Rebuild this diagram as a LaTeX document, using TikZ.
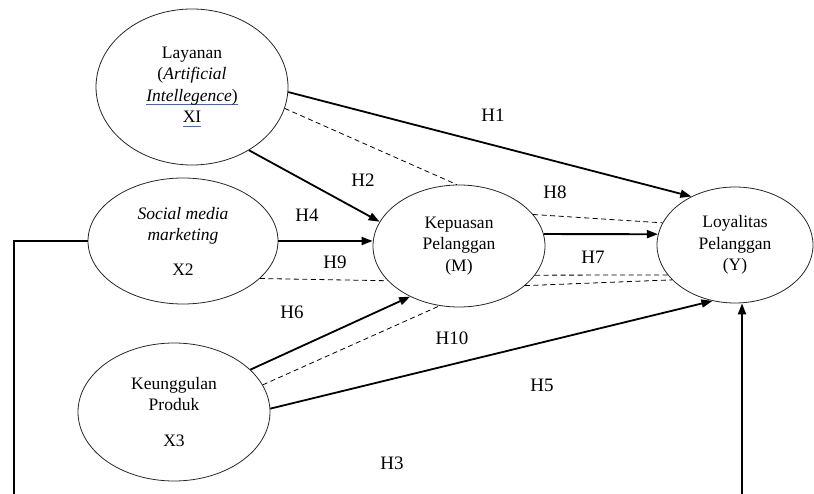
\documentclass[tikz,border=0pt]{standalone}
\usepackage{fontspec}
\setmainfont{Liberation Serif}
\usepackage{tikz}
\usetikzlibrary{arrows.meta, shapes.geometric, calc}
\definecolor{wordBlue}{RGB}{60,100,220}
\newcommand{\spellmark}[1]{\setbox0\hbox{#1}\rlap{\color{wordBlue}\rule[-4pt]{\wd0}{1.1pt}}\box0}
\tikzset{
	var/.style={draw, black!85, text=black, ellipse, line width=0.8pt, inner sep=0pt, align=center, font=\fontsize{17.5}{21.5}\selectfont},
	hyp/.style={line width=1.8pt, -{Triangle[length=11pt,width=8pt]}},
	med/.style={line width=0.8pt, dash pattern=on 5pt off 3.5pt},
	hlab/.style={font=\fontsize{19}{22}\selectfont}
}

\begin{document}
\begin{tikzpicture}[x=1pt, y=-1pt]
				\useasboundingbox (0,0) rectangle (814,494);
				
				% variables
				\node[var, minimum width=192pt, minimum height=156pt] (XI) at (192,87) {Layanan\\(\textit{Artificial}\\\spellmark{\textit{Intellegence})}\\\spellmark{XI}};
				\node[var, minimum width=190pt, minimum height=126pt] (X2) at (183,241) {\textit{Social media}\\\textit{marketing}\\[13pt]X2};
				\node[var, minimum width=192pt, minimum height=138pt] (X3) at (174,412) {Keunggulan\\Produk\\[14pt]X3};
				\node[var, minimum width=172pt, minimum height=122pt] (M) at (459,246) {Kepuasan\\Pelanggan\\(M)};
				\node[var, minimum width=156pt, minimum height=116pt] (Y) at (735,245) {Loyalitas\\Pelanggan\\(Y)};
				
				% direct paths
				\draw[hyp] (XI.-3) -- (Y.132);
				\draw[hyp] (XI.-48) -- (M.163);
				\draw[hyp] (X2.east) -- (X2.east -| M.west);
				\draw[hyp] (X3.29) -- (M.-134);
				\draw[hyp] (X3.2) -- (Y.-112);
				\draw[hyp] (M.8) -- (Y.172);
				
				% mediation paths
				\draw[med] (XI.-13) -- (M.92);
				\draw[med] (X2.-26) -- (M.-154);
				\draw[med] (X3.17) -- (M.-108);
				\draw[med] (M.23) -- (Y.163);
				\draw[med] (M.-21) -- (Y.-156);
				\draw[med] (M.-31) -- (Y.-151);
				
				\coordinate (bl) at (14,500);
				\coordinate (br) at (742,500);
				\draw[hyp] (X2.west) -| (bl) -- (br) -- (br |- Y.south);
				
				\node[hlab] (h1) at (493,115) {H1};
				\node[hlab] (h2) at (363,180) {H2};
				\node[hlab] (h3) at (392,463) {H3};
				\node[hlab] (h4) at (307,215) {H4};
				\node[hlab] (h5) at (542,385) {H5};
				\node[hlab] (h6) at (292,312) {H6};
				\node[hlab] (h7) at (593,257) {H7};
				\node[hlab] (h8) at (555,192) {H8};
				\node[hlab] (h9) at (335,262) {H9};
				\node[hlab] (h10) at (452,338) {H10};
			\end{tikzpicture}
\end{document}
